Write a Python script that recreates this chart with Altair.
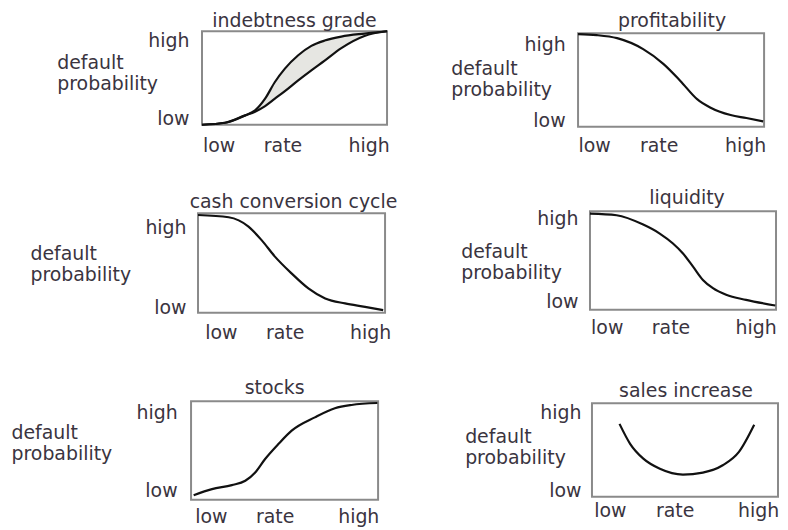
import altair as alt
import pandas as pd

# ---------------- data ----------------
TITLES = ["indebtness grade", "profitability", "cash conversion cycle",
          "liquidity", "stocks", "sales increase"]
X_LABELS = ["low", "rate", "high"]
Y_LABELS = ["low", "high"]
Y_TITLE = ["default", "probability"]

# indebtness grade: two curves on a common x grid (band between them)
IND_X = [0.0, 0.125, 0.233, 0.287, 0.341, 0.394, 0.448, 0.52, 0.591, 0.663, 0.753, 0.878, 1.0]
IND_UPPER = [0.0, 0.021, 0.10, 0.154, 0.279, 0.457, 0.60, 0.743, 0.843, 0.90, 0.943, 0.975, 1.0]
IND_LOWER = [0.0, 0.021, 0.10, 0.14, 0.20, 0.279, 0.36, 0.475, 0.582, 0.686, 0.82, 0.95, 1.0]

PROF_X = [0.0, 0.10, 0.21, 0.35, 0.46, 0.55, 0.64, 0.71, 0.82, 0.905, 0.995]
PROF_Y = [0.99, 0.98, 0.947, 0.83, 0.67, 0.49, 0.295, 0.206, 0.125, 0.093, 0.057]

CASH_X = [0.0, 0.164, 0.27, 0.34, 0.41, 0.50, 0.59, 0.68, 0.786, 0.893, 0.99]
CASH_Y = [0.983, 0.96, 0.866, 0.73, 0.567, 0.396, 0.245, 0.144, 0.094, 0.06, 0.027]

LIQ_X = [0.0, 0.143, 0.286, 0.375, 0.446, 0.50, 0.554, 0.607, 0.661, 0.732, 0.839, 0.996]
LIQ_Y = [0.976, 0.96, 0.865, 0.774, 0.673, 0.572, 0.438, 0.303, 0.219, 0.152, 0.101, 0.044]

STK_X = [0.014, 0.112, 0.218, 0.29, 0.343, 0.396, 0.467, 0.538, 0.662, 0.769, 0.858, 0.996]
STK_Y = [0.047, 0.108, 0.149, 0.193, 0.278, 0.414, 0.566, 0.702, 0.837, 0.929, 0.963, 0.983]

SAL_X = [0.148, 0.205, 0.276, 0.365, 0.489, 0.596, 0.703, 0.79, 0.872]
SAL_Y = [0.78, 0.567, 0.408, 0.30, 0.238, 0.259, 0.337, 0.48, 0.77]

# tick positions (fraction of each box) of the text labels
X_TICKS = [[0.09, 0.435, 0.90], [0.086, 0.433, 0.898], [0.122, 0.463, 0.92],
           [0.09, 0.433, 0.89], [0.106, 0.447, 0.894], [0.096, 0.444, 0.893]]
Y_TICKS = [[0.064, 0.90], [0.064, 0.883], [0.05, 0.86],
           [0.08, 0.93], [0.09, 0.89], [0.064, 0.90]]

# ---------------- layout / style ----------------
W, H = 776, 522
FONT = "DejaVu Sans"
TEXT = "#3a3440"
BOX = "#8a8a8a"
CURVE = "#111111"
BAND = "#e6e6e2"
LABEL_SIZE = 19
TITLE_SIZE = 19

# box edges in pixels (left, right, top, bottom), axis paddings, title offsets
LAYOUT = [
    dict(l=195, r=381, t=22, b=116, tx=-146, ty=59, ylp=13, xlp=12, tdy=-4, tdx=0),
    dict(l=573, r=760, t=24, b=118, tx=-128, ty=65, ylp=13, xlp=10, tdy=-6, tdx=1),
    dict(l=191, r=379, t=205, b=305, tx=-169, ty=251, ylp=12, xlp=11, tdy=-5, tdx=2),
    dict(l=585, r=772, t=203, b=302, tx=-130, ty=249, ylp=12, xlp=9, tdy=-7, tdx=4),
    dict(l=184, r=372, t=394, b=493, tx=-181, ty=431, ylp=14, xlp=8, tdy=-7, tdx=-10),
    dict(l=587, r=774, t=396, b=490, tx=-128, ty=435, ylp=11, xlp=5, tdy=-6, tdx=1),
]

X_EXPR = (f"datum.value < 0.3 ? '{X_LABELS[0]}' : "
          f"datum.value < 0.7 ? '{X_LABELS[1]}' : '{X_LABELS[2]}'")
Y_EXPR = f"datum.value < 0.5 ? '{Y_LABELS[0]}' : '{Y_LABELS[1]}'"


def curve_df(xs, ys, name):
    return pd.DataFrame({"x": xs, "y": ys, "curve": name})


def panel(i, line_df, band_df=None):
    L = LAYOUT[i]
    xs = alt.Scale(domain=[0, 1], range=[L["l"], L["r"]], nice=False, zero=False)
    ys = alt.Scale(domain=[0, 1], range=[L["b"], L["t"]], nice=False, zero=False)
    xax = alt.Axis(orient="bottom", offset=L["b"] - H, values=X_TICKS[i],
                   labelExpr=X_EXPR, labelPadding=L["xlp"], title=None,
                   labelAngle=0)
    yax = alt.Axis(orient="left", offset=-L["l"], values=Y_TICKS[i],
                   labelExpr=Y_EXPR, labelPadding=L["ylp"],
                   title=Y_TITLE, titleAngle=0, titleAlign="left",
                   titleBaseline="alphabetic", titleX=L["tx"], titleY=L["ty"])
    layers = []
    if band_df is not None:
        layers.append(
            alt.Chart(band_df).mark_area(color=BAND, interpolate="monotone").encode(
                x=alt.X("x:Q", scale=xs, axis=xax),
                y=alt.Y("hi:Q", scale=ys, axis=yax),
                y2="lo:Q",
            )
        )
    box_df = pd.DataFrame({"x0": [0], "x1": [1], "y0": [0], "y1": [1]})
    layers.append(
        alt.Chart(box_df).mark_rect(filled=False, color=BOX, strokeWidth=2).encode(
            x=alt.X("x0:Q", scale=xs, axis=xax),
            x2="x1:Q",
            y=alt.Y("y0:Q", scale=ys, axis=yax),
            y2="y1:Q",
        )
    )
    layers.append(
        alt.Chart(line_df).mark_line(color=CURVE, strokeWidth=2.2,
                                     interpolate="monotone").encode(
            x=alt.X("x:Q", scale=xs, axis=xax),
            y=alt.Y("y:Q", scale=ys, axis=yax),
            detail="curve:N",
        )
    )
    title_df = pd.DataFrame({"x": [0.5], "y": [1.0], "t": [TITLES[i]]})
    layers.append(
        alt.Chart(title_df).mark_text(font=FONT, fontSize=TITLE_SIZE, color=TEXT,
                                      align="center", baseline="alphabetic",
                                      dx=L["tdx"], dy=L["tdy"]).encode(
            x=alt.X("x:Q", scale=xs, axis=xax),
            y=alt.Y("y:Q", scale=ys, axis=yax),
            text="t:N",
        )
    )
    return alt.layer(*layers)


ind_lines = pd.concat([curve_df(IND_X, IND_UPPER, "upper"),
                       curve_df(IND_X, IND_LOWER, "lower")])
ind_band = pd.DataFrame({"x": IND_X, "hi": IND_UPPER, "lo": IND_LOWER})

panels = [
    panel(0, ind_lines, ind_band),
    panel(1, curve_df(PROF_X, PROF_Y, "c")),
    panel(2, curve_df(CASH_X, CASH_Y, "c")),
    panel(3, curve_df(LIQ_X, LIQ_Y, "c")),
    panel(4, curve_df(STK_X, STK_Y, "c")),
    panel(5, curve_df(SAL_X, SAL_Y, "c")),
]

chart = alt.layer(*panels).resolve_scale(
    x="independent", y="independent"
).resolve_axis(
    x="independent", y="independent"
).properties(
    width=W, height=H, padding=0,
    autosize=alt.AutoSizeParams(type="none"),
).configure_view(stroke="transparent").configure_axis(
    domain=False, ticks=False, tickSize=0, grid=False,
    labelFont=FONT, labelFontSize=LABEL_SIZE, labelColor=TEXT,
    labelOverlap=False, labelFlush=False,
    titleFont=FONT, titleFontSize=LABEL_SIZE, titleColor=TEXT,
    titleFontWeight="normal", titleLineHeight=22,
)

chart.save("out.html", embed_options={"renderer": "svg", "actions": False})
